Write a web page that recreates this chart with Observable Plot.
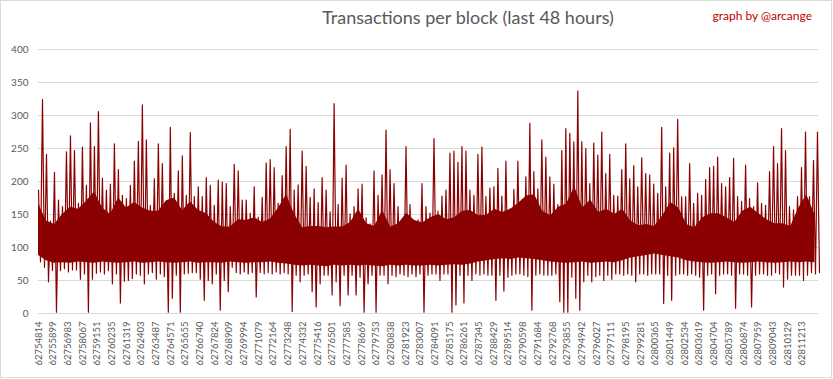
<!DOCTYPE html>
<html>
<head>
<meta charset="utf-8">
<script src="https://cdn.jsdelivr.net/npm/d3@7"></script>
<script src="https://cdn.jsdelivr.net/npm/@observablehq/plot@0.6"></script>
<style>
  html, body { margin: 0; padding: 0; background: #fff; }
  #wrap { position: relative; width: 833px; height: 379px; overflow: hidden; font-family: Lato, "Open Sans", sans-serif; }
  #frame { position: absolute; left: 0; top: 0; width: 832px; height: 378px; box-sizing: border-box; border: 1px solid #d9d9d9; pointer-events: none; }
  #title { position: absolute; top: 6px; left: 468px; transform: translateX(-50%); white-space: nowrap; font-size: 18px; color: #595959; }
  #credit { position: absolute; top: 8px; right: 21px; white-space: nowrap; font-size: 12px; color: #c00000; }
  #chart { position: absolute; left: 0; top: 0; }
</style>
</head>
<body>
<div id="wrap">
  <div id="chart"></div>
  <div id="frame"></div>
  <div id="title">Transactions per block (last 48 hours)</div>
  <div id="credit">graph by @arcange</div>
</div>
<script>
// ---- data ----
const firstBlock = 62754814;
const lastBlock = 62812414;
const sampleStep = 295;  // blocks per peak/trough window (≈ 4 px)
const bodyStep = 591;    // blocks per dense-band reading (≈ 8 px)

const tickBlocks = [
  62754814, 62755899, 62756983, 62758067, 62759151, 62760235, 62761319, 62762403,
  62763487, 62764571, 62765655, 62766740, 62767824, 62768909, 62769994, 62771079,
  62772164, 62773248, 62774332, 62775416, 62776501, 62777585, 62778669, 62779753,
  62780838, 62781923, 62783007, 62784091, 62785175, 62786261, 62787345, 62788429,
  62789514, 62790598, 62791684, 62792768, 62793855, 62794942, 62796027, 62797111,
  62798195, 62799281, 62800365, 62801449, 62802534, 62803619, 62804704, 62805789,
  62806874, 62807959, 62809043, 62810129, 62811213
];

const yTicks = [0, 50, 100, 150, 200, 250, 300, 350, 400];

// highest transaction count inside each window
const peaks = [
  187, 324, 241, 140, 214, 172, 162, 245, 269, 247, 167, 252, 194, 289, 253, 306,
  205, 187, 196, 257, 218, 179, 174, 194, 231, 261, 316, 263, 164, 204, 257, 227,
  162, 282, 182, 216, 239, 179, 274, 177, 192, 177, 206, 194, 164, 202, 199, 197, 162,
  226, 216, 172, 172, 152, 192, 146, 176, 228, 233, 221, 167, 209, 253, 279, 187,
  195, 246, 223, 176, 189, 168, 206, 187, 154, 318, 165, 205, 225, 151, 162, 189,
  196, 145, 136, 216, 179, 210, 278, 218, 197, 162, 141, 253, 165, 141, 142,
  197, 162, 152, 265, 155, 178, 187, 243, 246, 229, 253, 246, 187, 179, 241, 252,
  177, 190, 192, 220, 178, 231, 158, 188, 231, 172, 207, 288, 215, 189, 263, 237,
  207, 196, 165, 247, 280, 273, 260, 337, 260, 250, 197, 258, 240, 275, 212,
  241, 179, 178, 218, 257, 204, 224, 192, 236, 212, 210, 196, 182, 282, 192, 243,
  251, 294, 177, 177, 227, 167, 182, 179, 203, 221, 223, 237, 197, 192, 206, 235,
  177, 170, 225, 174, 162, 198, 167, 164, 215, 253, 227, 280, 247, 162, 157, 177,
  221, 275, 177, 232, 275
];

// lowest transaction count inside each window
const troughs = [
  78, 70, 48, 65, 2, 65, 68, 63, 66, 66, 52, 60, 2, 52, 61, 63,
  60, 65, 45, 60, 16, 49, 50, 53, 60, 58, 45, 60, 62, 52, 60, 56,
  2, 23, 58, 2, 60, 61, 62, 62, 52, 20, 50, 45, 60, 5, 50, 33, 70,
  62, 60, 63, 60, 62, 25, 62, 60, 62, 60, 63, 60, 62, 60, 3, 58,
  48, 58, 60, 33, 10, 45, 58, 58, 28, 48, 12, 58, 28, 58, 28, 55,
  2, 45, 58, 2, 58, 58, 45, 58, 56, 60, 58, 56, 60, 56, 60,
  2, 58, 60, 60, 50, 60, 60, 2, 13, 58, 16, 58, 50, 60, 58, 60,
  58, 58, 20, 58, 34, 55, 58, 60, 60, 58, 56, 5, 58, 60, 58, 58,
  58, 60, 18, 2, 2, 55, 23, 5, 48, 58, 48, 56, 58, 50, 58,
  52, 60, 60, 58, 60, 58, 48, 60, 60, 58, 60, 60, 60, 15, 58, 20,
  58, 60, 60, 58, 60, 58, 55, 5, 58, 60, 30, 58, 60, 60, 58, 8,
  60, 60, 58, 10, 58, 60, 60, 58, 58, 62, 60, 40, 52, 58, 58, 58,
  50, 58, 62, 60, 62
];

// upper edge of the dense (solid) part of the band
const bandTop = [
  166, 140, 135, 150, 161, 158, 170, 184, 160, 150, 175, 160, 168, 160, 155, 155,
  171, 175, 156, 169, 156, 151, 138, 131, 131, 142, 141, 145, 138, 143, 160, 180,
  150, 130, 132, 132, 130, 131, 131, 138, 158, 136, 132, 156, 131, 136, 152, 141,
  137, 145, 150, 142, 145, 155, 156, 148, 149, 158, 153, 158, 167, 178, 180, 155,
  148, 161, 166, 192, 160, 172, 153, 158, 150, 158, 140, 133, 135, 132, 148, 168,
  160, 135, 130, 145, 151, 151, 145, 138, 155, 161, 151, 142, 136, 136, 132, 160,
  180, 150
];

// lower edge of the dense (solid) part of the band
const bandBottom = [
  88, 80, 76, 77, 76, 78, 77, 76, 78, 77, 76, 77, 78, 76, 77, 78,
  77, 76, 77, 78, 76, 77, 77, 76, 78, 77, 76, 77, 77, 78, 76, 75,
  73, 72, 73, 72, 71, 73, 72, 73, 72, 73, 72, 71, 73, 72, 73, 72,
  72, 73, 72, 73, 74, 73, 75, 78, 80, 82, 83, 82, 84, 83, 82, 80,
  78, 77, 76, 77, 78, 76, 77, 78, 77, 80, 84, 86, 88, 90, 88, 86,
  84, 80, 78, 77, 76, 77, 78, 77, 76, 77, 78, 77, 76, 77, 78, 77,
  78, 77
];

// ---- rows for the marks ----
const band = bandTop.map((t, j) => ({ block: firstBlock + j * bodyStep, top: t, bottom: bandBottom[j] }));
const series = [];
peaks.forEach((p, i) => {
  const b = firstBlock + i * sampleStep;
  series.push({ block: b, tx: p });
  series.push({ block: b + sampleStep / 2, tx: troughs[i] });
});

const red = "#8b0000";
const chart = Plot.plot({
  width: 833,
  height: 379,
  marginTop: 49,
  marginBottom: 66,
  marginLeft: 38,
  marginRight: 15,
  style: { fontFamily: "Lato, 'Open Sans', sans-serif", fontSize: "9.5px", color: "#595959", background: "transparent" },
  x: { type: "linear", domain: [firstBlock, lastBlock] },
  y: { domain: [0, 400] },
  marks: [
    Plot.ruleY(yTicks, { stroke: "#d9d9d9", strokeWidth: 1 }),
    Plot.areaY(band, { x: "block", y1: "bottom", y2: "top", fill: red }),
    Plot.line(series, { x: "block", y: "tx", stroke: red, strokeWidth: 1.2 }),
    Plot.axisY({ ticks: yTicks, tickSize: 0, tickPadding: 10, label: null, fontSize: 10 }),
    Plot.axisX({ ticks: tickBlocks, tickFormat: d => String(d), tickRotate: -90, tickSize: 0, tickPadding: 8, label: null, fontSize: 9.5 })
  ]
});
document.getElementById("chart").appendChild(chart);
</script>
</body>
</html>
